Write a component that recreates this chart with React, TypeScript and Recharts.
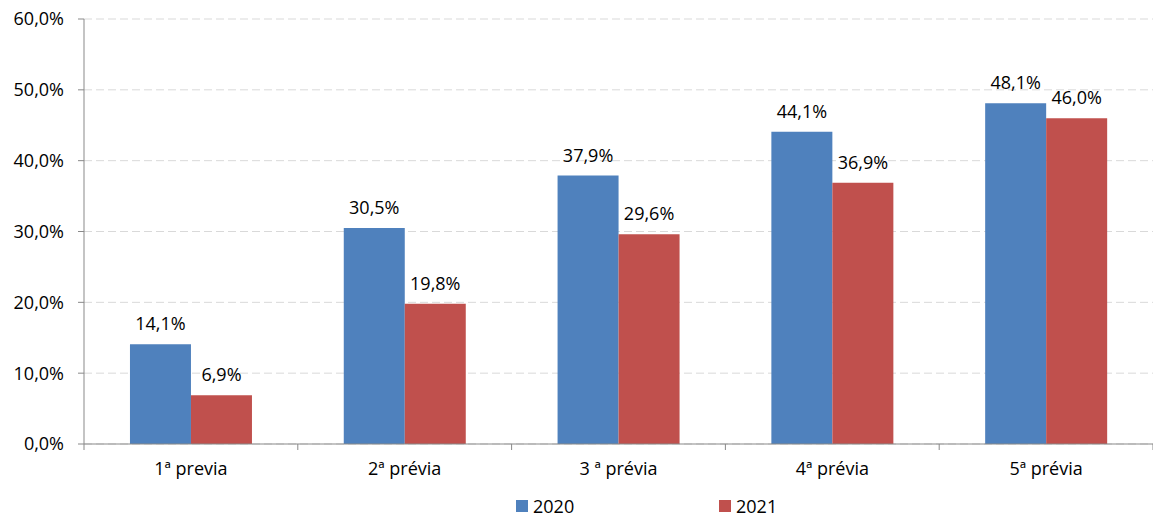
import { BarChart, Bar, XAxis, YAxis, CartesianGrid, LabelList } from 'recharts'

const categories = ['1ª previa', '2ª prévia', '3 ª prévia', '4ª prévia', '5ª prévia']
const values2020 = [14.1, 30.5, 37.9, 44.1, 48.1]
const values2021 = [6.9, 19.8, 29.6, 36.9, 46.0]
const yTicks = [0, 10, 20, 30, 40, 50, 60]

const data = categories.map((name, i) => ({ name, y2020: values2020[i], y2021: values2021[i] }))

const pct = (v: any) => Number(v).toFixed(1).replace('.', ',') + '%'
const font = 'Open Sans, sans-serif'
const axisColor = '#898989'
const X_TICK_MARGIN = 18

const legendItems = [
    { label: '2020', color: '#4F81BD', left: 516 },
    { label: '2021', color: '#C0504D', left: 719 },
]

// category label plus tick marks at the band edges (Excel style)
function EdgeTick(props: any) {
    const { x, y, payload, index } = props
    const half = payload?.offset ?? 0
    const axisY = y - X_TICK_MARGIN
    const last = index === categories.length - 1
    return (
        <g>
            <line x1={x - half} x2={x - half} y1={axisY} y2={axisY + 6} stroke={axisColor} />
            {last && <line x1={x + half} x2={x + half} y1={axisY} y2={axisY + 6} stroke={axisColor} />}
            <text x={x} y={y} dy="0.71em" textAnchor="middle" fill="#000" fontSize={18} fontFamily={font}>
                {payload.value}
            </text>
        </g>
    )
}

export default function App() {
    return (
        <div style={{ position: 'absolute', left: 0, top: 0, width: 1153, height: 516, background: '#fff' }}>
            <BarChart
                width={1153}
                height={516}
                data={data}
                margin={{ top: 19, right: 0, left: 0, bottom: 32 }}
                barCategoryGap="21.5%"
                barGap={0}
            >
                <CartesianGrid stroke="#d9d9d9" strokeDasharray="8 4" vertical={false} />
                <XAxis
                    dataKey="name"
                    height={40}
                    tickLine={false}
                    tickSize={0}
                    axisLine={{ stroke: axisColor }}
                    tickMargin={X_TICK_MARGIN}
                    tick={<EdgeTick />}
                    interval={0}
                />
                <YAxis
                    width={84}
                    domain={[0, 60]}
                    ticks={yTicks}
                    tickFormatter={pct}
                    tickSize={6}
                    tickMargin={14}
                    stroke={axisColor}
                    tick={{ fill: '#000', fontSize: 18, fontFamily: font }}
                />
                <Bar dataKey="y2020" fill="#4F81BD" isAnimationActive={false}>
                    <LabelList dataKey="y2020" position="top" offset={14} formatter={pct} fill="#000" fontSize={18} fontFamily={font} />
                </Bar>
                <Bar dataKey="y2021" fill="#C0504D" isAnimationActive={false}>
                    <LabelList dataKey="y2021" position="top" offset={14} formatter={pct} fill="#000" fontSize={18} fontFamily={font} />
                </Bar>
            </BarChart>
            {legendItems.map((it) => (
                <div
                    key={it.label}
                    style={{
                        position: 'absolute',
                        left: it.left,
                        top: 494,
                        display: 'flex',
                        alignItems: 'center',
                        fontFamily: font,
                        fontSize: 18,
                        color: '#000',
                        lineHeight: '24px',
                    }}
                >
                    <span style={{ display: 'inline-block', width: 12, height: 12, background: it.color, marginRight: 5 }} />
                    {it.label}
                </div>
            ))}
        </div>
    )
}
